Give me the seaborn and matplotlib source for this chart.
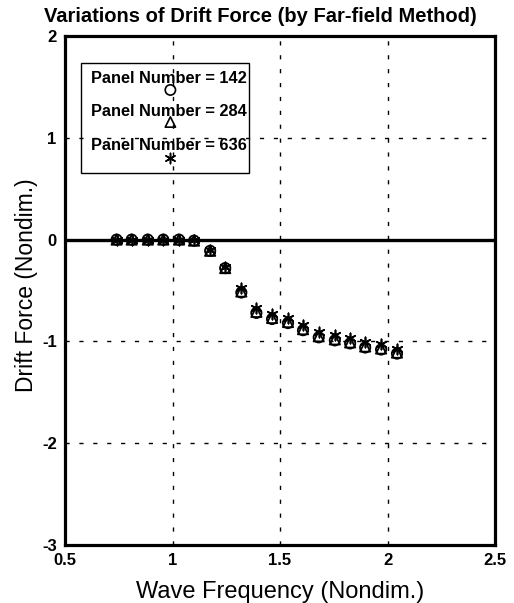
import matplotlib
matplotlib.use("Agg")
import matplotlib.pyplot as plt
from matplotlib.patches import Rectangle
import pandas as pd
import seaborn as sns

# Drift force versus wave frequency for three panel discretisations
freq = [0.74, 0.81, 0.885, 0.957, 1.03, 1.10, 1.175, 1.245, 1.32, 1.39,
        1.463, 1.537, 1.607, 1.68, 1.755, 1.826, 1.896, 1.97, 2.044]
force_142 = [0.0, 0.0, 0.0, 0.0, 0.0, -0.01, -0.11, -0.28, -0.52, -0.72,
             -0.78, -0.82, -0.89, -0.96, -0.99, -1.02, -1.06, -1.08, -1.12]
force_284 = [0.0, 0.0, 0.0, 0.0, 0.0, -0.01, -0.11, -0.28, -0.51, -0.71,
             -0.77, -0.81, -0.88, -0.95, -0.98, -1.01, -1.05, -1.07, -1.11]
force_636 = [0.0, 0.0, 0.0, 0.0, 0.0, 0.0, -0.10, -0.27, -0.48, -0.67,
             -0.73, -0.77, -0.84, -0.91, -0.94, -0.97, -1.01, -1.03, -1.07]

panel_labels = ["Panel Number = 142", "Panel Number = 284", "Panel Number = 636"]
x_ticks = [0.5, 1, 1.5, 2, 2.5]
x_tick_labels = ["0.5", "1", "1.5", "2", "2.5"]
y_ticks = [-3, -2, -1, 0, 1, 2]

sns.set_theme(style="white")
plt.rcParams["font.family"] = ["Liberation Sans", "DejaVu Sans"]
plt.rcParams["axes.unicode_minus"] = False

fig = plt.figure(figsize=(5.14, 6.03), dpi=100)
ax = fig.add_axes([0.1265, 0.0962, 0.8366, 0.8441])

ASTERISK = (6, 2, 0)
series = [(force_142, "o"), (force_284, "^"), (force_636, ASTERISK)]
for vals, mk in series:
    df = pd.DataFrame({"freq": freq, "force": vals})
    if mk == ASTERISK:
        style = dict(color="black", linewidth=1.2)
    else:
        style = dict(facecolor="none", edgecolor="black", linewidth=1.3)
    sns.scatterplot(data=df, x="freq", y="force", ax=ax, marker=mk, s=55,
                    zorder=4, legend=False, **style)

ax.set_xlim(0.5, 2.5)
ax.set_ylim(-3, 2)
ax.set_xticks(x_ticks)
ax.set_xticklabels(x_tick_labels)
ax.set_yticks(y_ticks)

# dashed grid, solid zero line
for gx in [1, 1.5, 2]:
    ax.axvline(gx, color="black", lw=1.0, ls=(0, (3, 7)), zorder=1)
for gy in [1, -1, -2]:
    ax.axhline(gy, color="black", lw=1.0, ls=(0, (3, 7)), zorder=1)
ax.axhline(0, color="black", lw=2.4, zorder=2)

for sp in ax.spines.values():
    sp.set_color("black")
    sp.set_linewidth(2.3)

ax.tick_params(axis="both", direction="in", length=4, width=1, colors="black",
               labelsize=12, pad=6)
for lab in ax.get_xticklabels() + ax.get_yticklabels():
    lab.set_fontweight("bold")

ax.set_xlabel("Wave Frequency (Nondim.)", fontsize=17, labelpad=9, color="black")
ax.set_ylabel("Drift Force (Nondim.)", fontsize=16.5, color="black")
ax.yaxis.set_label_coords(-0.062, 0.511)
fig.text(260 / 514, 1 - 17 / 603,
         "Variations of Drift Force (by Far-field Method)", fontsize=14.5,
         fontweight="bold", ha="center", va="center", color="black")

# key box: label with its marker beneath
ax.add_patch(Rectangle((0.037, 0.731), 0.391, 0.216, transform=ax.transAxes,
                       fill=False, edgecolor="black", lw=1.0, zorder=5))
text_y = [0.917, 0.851, 0.785]
mark_y = [0.894, 0.831, 0.760]
for lab, (vals, mk), ty, my in zip(panel_labels, series, text_y, mark_y):
    ax.text(0.242, ty, lab, transform=ax.transAxes, ha="center", va="center",
            fontsize=11.8, fontweight="bold", color="black", zorder=6)
    if mk == ASTERISK:
        style = dict(color="black", linewidth=1.1)
    else:
        style = dict(facecolor="none", edgecolor="black", linewidth=1.2)
    ax.scatter([0.245], [my], transform=ax.transAxes, marker=mk, s=55,
               zorder=6, **style)

fig.savefig("out.png", dpi=100)
